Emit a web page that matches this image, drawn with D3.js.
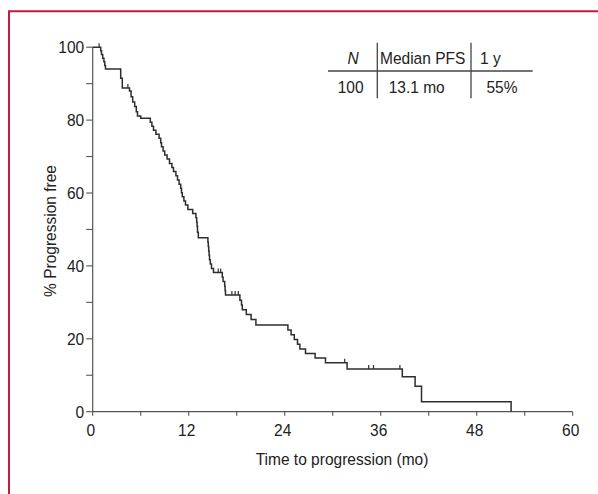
<!DOCTYPE html>
<html><head><meta charset="utf-8">
<script src="https://cdn.jsdelivr.net/npm/d3@7"></script>
<style>body{margin:0;background:#fff}svg{display:block}text{font-family:"Liberation Sans",Arial,sans-serif;fill:#222}</style>
</head><body>
<script>
// Kaplan-Meier step data (time in months, % progression free after the event)
const eventTimes = [0,1.0,1.1,1.25,1.4,1.5,1.6,3.5,3.7,4.6,4.8,5.0,5.25,5.45,5.6,6.0,7.2,7.4,7.6,7.9,8.3,8.5,8.6,8.8,9.0,9.3,9.6,9.9,10.1,10.4,10.6,10.8,11.0,11.1,11.2,11.4,11.6,11.9,12.5,12.9,13.0,13.05,13.1,13.2,14.4,14.45,14.5,14.55,14.6,14.7,14.85,15.1,16.2,16.3,16.5,16.55,16.6,18.4,18.6,18.7,19.2,19.8,20.4,24.4,24.8,25.2,25.6,25.9,26.6,27.8,29.1,31.8,38.7,40.3,41.1,52.3];
const survival   = [100,99,98,97,96,95,94,91.5,88.8,88.0,86.4,85.0,83.7,82.3,81.1,80.5,79.4,78.3,77.2,76.1,75.0,73.8,72.7,71.5,70.4,69.3,68.1,67.0,65.9,64.7,63.6,62.4,61.3,60.1,59.0,57.8,56.7,55.5,54.4,53.2,52.0,50.9,49.2,47.7,46.5,45.3,44.1,42.9,41.7,40.5,39.3,38.2,36.9,35.7,34.4,33.2,32.0,30.6,29.3,28.0,26.7,25.3,23.8,22.4,21.1,19.8,18.5,17.2,16.0,14.7,13.4,11.7,9.6,7.0,2.7,0];
const censorTimes = [0.8,4.4,15.7,16.0,17.4,17.8,18.2,31.5,34.5,35.1,38.4];
const xTicks = [0,6,12,18,24,30,36,42,48,54,60];
const xLabels = [0,12,24,36,48,60];
const yTicks = [0,10,20,30,40,50,60,70,80,90,100];
const yLabels = [0,20,40,60,80,100];
const tableHeader = ["N","Median PFS","1 y"];
const tableRow = ["100","13.1 mo","55%"];

const W = 598, H = 494;
const FS = "16px";
const svg = d3.select("body").append("svg").attr("width", W).attr("height", H);

// frame
svg.append("path").attr("d", `M9,${H+5} L9,11.3 L${W+5},11.3`)
  .attr("fill","none").attr("stroke","#c41a48").attr("stroke-width",2);

const x = d3.scaleLinear().domain([0,60]).range([92.7,572.7]);
const y = d3.scaleLinear().domain([0,100]).range([411.7,47.2]);
const axisColor = "#555";

// y axis
const gy = svg.append("g");
gy.append("line").attr("x1",x(0)).attr("x2",x(0)).attr("y1",y(100)).attr("y2",y(0))
  .attr("stroke",axisColor).attr("stroke-width",1.2);
gy.selectAll(".yt").data(yTicks).join("line")
  .attr("x1",x(0)-6.5).attr("x2",x(0)).attr("y1",d=>y(d)).attr("y2",d=>y(d))
  .attr("stroke",axisColor).attr("stroke-width",1.1);
gy.selectAll(".yl").data(yLabels).join("text")
  .attr("transform",d=>`translate(${x(0)-8.5},${y(d)}) scale(0.97,1.08)`).attr("dy","0.36em")
  .attr("text-anchor","end").attr("font-size",FS).text(d=>d);

// x axis
const gx = svg.append("g");
gx.append("line").attr("x1",x(0)).attr("x2",x(60)).attr("y1",y(0)).attr("y2",y(0))
  .attr("stroke",axisColor).attr("stroke-width",1.2);
gx.selectAll(".xt").data(xTicks).join("line")
  .attr("x1",d=>x(d)).attr("x2",d=>x(d)).attr("y1",y(0)).attr("y2",y(0)+4)
  .attr("stroke",axisColor).attr("stroke-width",1.1);
gx.selectAll(".xl").data(xLabels).join("text")
  .attr("transform",d=>`translate(${x(d)-2},435.5) scale(0.97,1.08)`)
  .attr("text-anchor","middle").attr("font-size",FS).text(d=>d);

svg.append("text").attr("transform","translate(342,464.5) scale(0.97,1.06)").attr("text-anchor","middle")
  .attr("font-size",FS).text("Time to progression (mo)");
svg.append("text").attr("transform","translate(55.5,231) rotate(-90) scale(0.97,1.06)")
  .attr("text-anchor","middle").attr("font-size",FS).text("% Progression free");

// KM curve
const pts = eventTimes.map((t,i)=>[t,survival[i]]);
const line = d3.line().x(d=>x(d[0])).y(d=>y(d[1])).curve(d3.curveStepAfter);
svg.append("path").datum(pts).attr("d",line)
  .attr("fill","none").attr("stroke","#2e2e2e").attr("stroke-width",1.5);

// censor marks
function sAt(t){ let s=100; for(let i=0;i<eventTimes.length;i++){ if(eventTimes[i]<=t) s=survival[i]; } return s; }
svg.selectAll(".cen").data(censorTimes).join("line")
  .attr("x1",d=>x(d)).attr("x2",d=>x(d)).attr("y1",d=>y(sAt(d))-4).attr("y2",d=>y(sAt(d)))
  .attr("stroke","#2e2e2e").attr("stroke-width",1.2);

// table
const tg = svg.append("g");
tg.append("line").attr("x1",328).attr("x2",532.7).attr("y1",71).attr("y2",71).attr("stroke","#444").attr("stroke-width",1.3);
[377.3,471].forEach(vx=>tg.append("line").attr("x1",vx).attr("x2",vx).attr("y1",42.7).attr("y2",98.3).attr("stroke","#444").attr("stroke-width",1.3));
const hx = [{x:353,a:"middle",s:"italic"},{x:380,a:"start",s:"normal"},{x:480,a:"start",s:"normal"}];
tableHeader.forEach((t,i)=>tg.append("text").attr("transform",`translate(${hx[i].x},64) scale(0.97,1.08)`).attr("text-anchor",hx[i].a)
  .attr("font-style",hx[i].s).attr("font-size",FS).text(t));
const rx = [{x:363.5,a:"end"},{x:416.7,a:"middle"},{x:502,a:"middle"}];
tableRow.forEach((t,i)=>tg.append("text").attr("transform",`translate(${rx[i].x},93.3) scale(0.97,1.08)`).attr("text-anchor",rx[i].a)
  .attr("font-size",FS).text(t));
</script>
</body></html>
